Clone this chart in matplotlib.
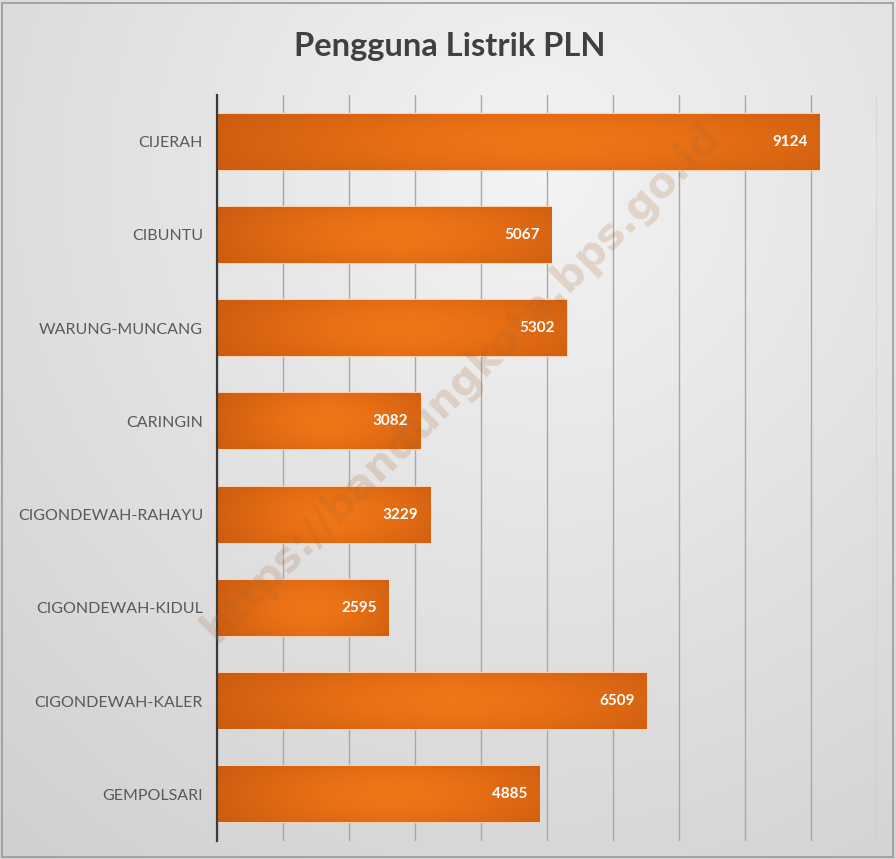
import numpy as np
import matplotlib
matplotlib.use("Agg")
import matplotlib.pyplot as plt
from matplotlib.patches import Rectangle

categories = ["CIJERAH", "CIBUNTU", "WARUNG-MUNCANG", "CARINGIN",
              "CIGONDEWAH-RAHAYU", "CIGONDEWAH-KIDUL", "CIGONDEWAH-KALER", "GEMPOLSARI"]
values = [9124, 5067, 5302, 3082, 3229, 2595, 6509, 4885]
title = "Pengguna Listrik PLN"
watermark = "https://bandungkota.bps.go.id"

plt.rcParams['font.family'] = ['Lato', 'DejaVu Sans']

fig = plt.figure(figsize=(8.96, 8.59), dpi=100)

# background gradient
bg = fig.add_axes([0, 0, 1, 1], zorder=-10)
yy, xx = np.mgrid[0:1:300j, 0:1:300j]
r = np.sqrt(((xx - 0.6) / 1.0) ** 2 + ((yy - 0.2) / 1.1) ** 2)
shade = 0.955 - 0.15 * np.clip(r, 0, 1.2)
bg.imshow(np.dstack([shade, shade, shade]), extent=[0, 1, 0, 1], aspect='auto', origin='upper')
bg.set_xlim(0, 1); bg.set_ylim(0, 1); bg.axis('off')
bg.add_patch(Rectangle((0.002, 0.002), 0.995, 0.995, fill=False, ec='#9a9a9a', lw=1.2,
                       transform=bg.transAxes))

ax = fig.add_axes([0.2422, 0.021, 0.7366, 0.8685])
ax.patch.set_alpha(0)
y = np.arange(len(categories))
bars = ax.barh(y, values, height=0.6, color='#E46C0A', edgecolor='#F8D2B2', linewidth=1.6, zorder=3)

# gradient overlay clipped to each bar
gx = np.linspace(0, 1, 200)
gy = np.linspace(0, 1, 40)
GX, GY = np.meshgrid(gx, gy)
fx = 1 - 0.55 * (2 * np.abs(GX - 0.55)) ** 1.6
fy = 1 - 0.25 * (2 * np.abs(GY - 0.5)) ** 2
t = np.clip(fx * fy, 0, 1)
dark = np.array([0.74, 0.32, 0.05])
light = np.array([0.94, 0.46, 0.09])
img = dark[None, None, :] * (1 - t[..., None]) + light[None, None, :] * t[..., None]
for b in bars:
    x0, y0, w, h = b.get_x(), b.get_y(), b.get_width(), b.get_height()
    im = ax.imshow(img, extent=[x0, x0 + w, y0, y0 + h], aspect='auto', zorder=4,
                   interpolation='bilinear')
    im.set_clip_path(b)

for yi, v in zip(y, values):
    ax.text(v - 180, yi, str(v), ha='right', va='center', color='white',
            fontsize=11, fontweight='bold', zorder=6)

ax.set_xlim(0, 10000)
ax.set_ylim(len(categories) - 0.5, -0.5)
ax.set_xticks(np.arange(0, 10001, 1000))
ax.xaxis.grid(True, color='#a8a8a8', lw=1.0, zorder=0)
ax.set_axisbelow(True)
ax.tick_params(axis='x', length=0, labelbottom=False)
ax.tick_params(axis='y', length=0, pad=10)
ax.set_yticks(y)
ax.set_yticklabels(categories, fontsize=11.5, color='#595959')
for s in ['top', 'right', 'bottom']:
    ax.spines[s].set_visible(False)
ax.spines['left'].set_color('#3a3a3a')
ax.spines['left'].set_linewidth(1.6)
ax.spines['left'].set_zorder(7)

fig.text(0.502, 0.946, title, ha='center', va='center', fontsize=23.5, fontweight='bold',
         color='#404040')

fig.text(0.515, 0.555, watermark, ha='center', va='center', rotation=45, fontsize=30,
         fontweight='bold', color='#a86530', alpha=0.2, zorder=20, family='DejaVu Sans')

fig.savefig('out.png', dpi=100)
